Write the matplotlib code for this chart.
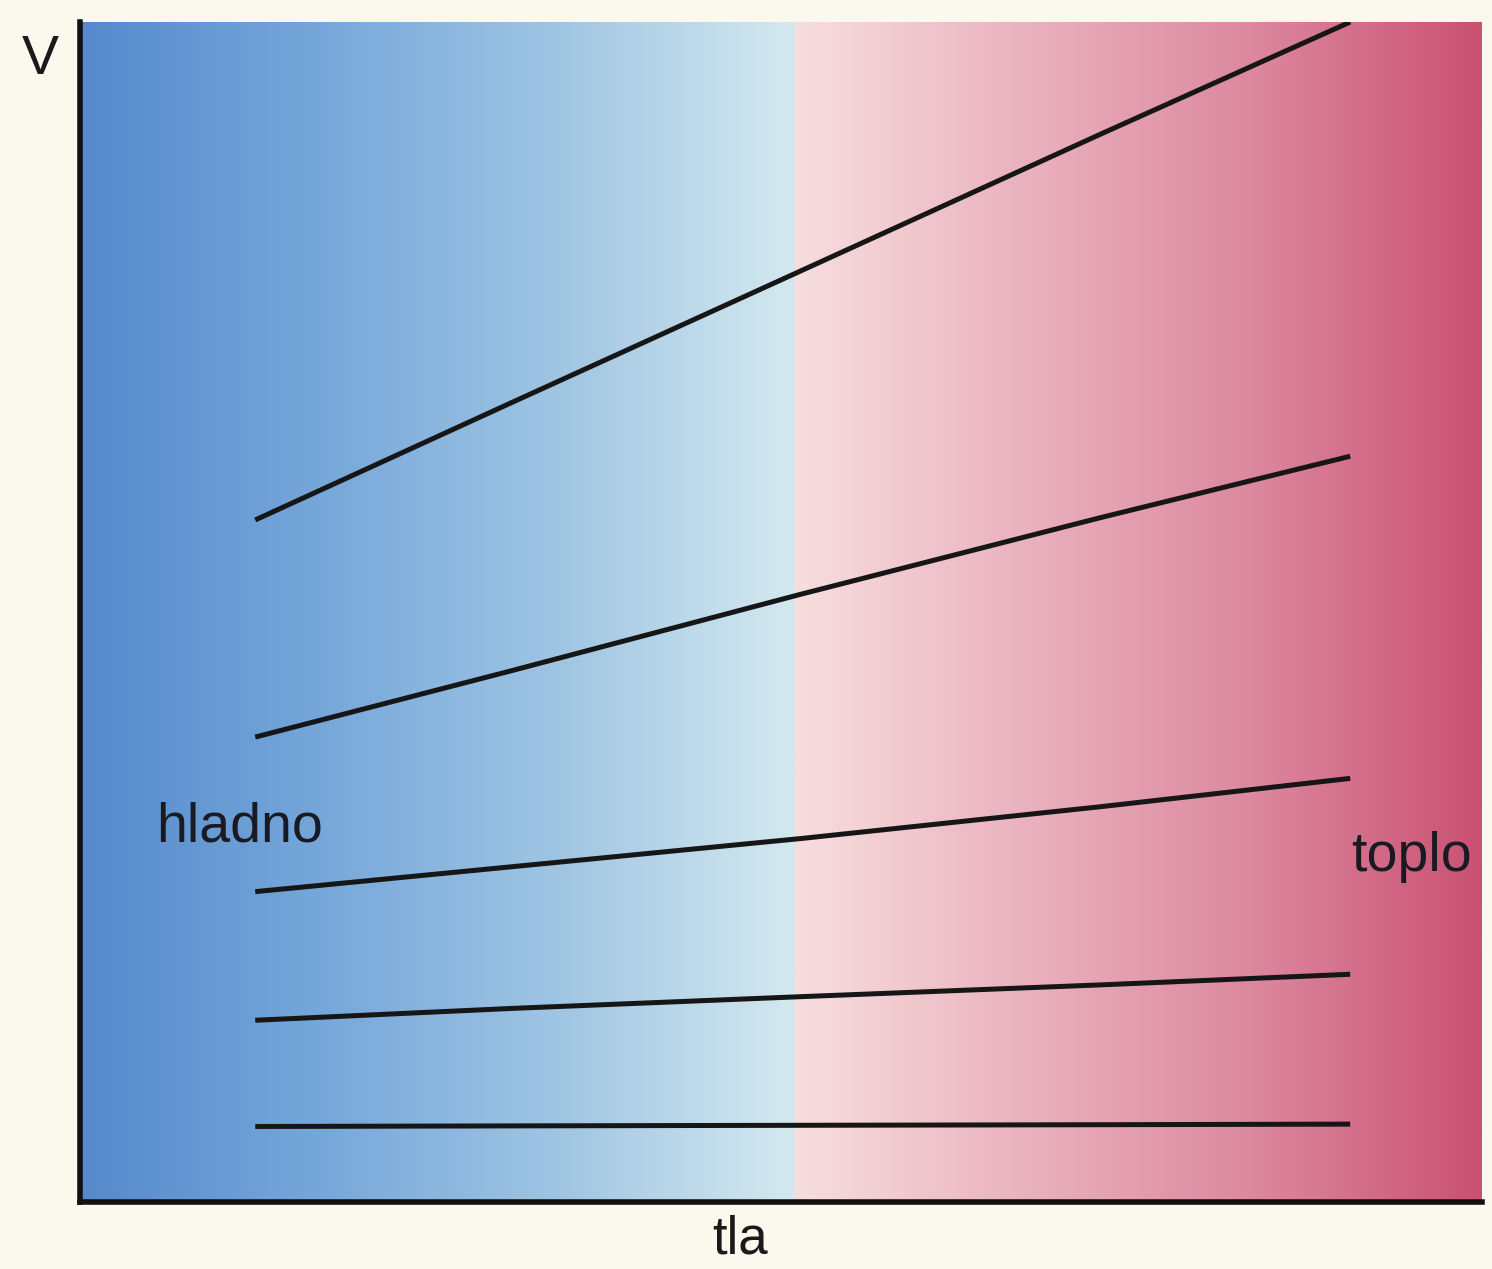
import numpy as np
import matplotlib
matplotlib.use("Agg")
import matplotlib.pyplot as plt
from matplotlib.colors import LinearSegmentedColormap

# temperature axis (tla) positions where each curve is read
tla = [12.5, 30.7, 51.4, 72.8, 90.6]

# volume curves, top to bottom
v_curves = [
    [57.8, 67.7, 78.9, 90.5, 100.0],
    [39.4, 45.0, 51.5, 58.0, 63.2],
    [26.3, 28.4, 30.8, 33.5, 35.9],
    [15.4, 16.4, 17.4, 18.4, 19.3],
    [6.4, 6.45, 6.5, 6.55, 6.6],
]

labels = {"hladno": (11.4, 31.7), "toplo": (95.0, 29.2)}

plt.rcParams['font.family'] = ['Liberation Sans', 'DejaVu Sans']

fig = plt.figure(figsize=(14.92, 12.69), dpi=100, facecolor='#fbf9ee')
ax = fig.add_axes([80 / 1492, 67 / 1269, 1402 / 1492, 1180 / 1269])
ax.set_xlim(0, 100)
ax.set_ylim(0, 100)

# cold half fades from blue to pale, warm half from pale pink to red
cold = LinearSegmentedColormap.from_list(
    'cold', ['#5689cc', '#76a7da', '#9fc5e3', '#d4e9ef'])
warm = LinearSegmentedColormap.from_list(
    'warm', ['#f7dede', '#eab2be', '#dc889e', '#ca5172'])
grad = np.linspace(0, 1, 256)[None, :]
split = 51.0
ax.imshow(grad, cmap=cold, aspect='auto', extent=(0, split, 0, 100), zorder=0)
ax.imshow(grad, cmap=warm, aspect='auto', extent=(split, 100, 0, 100), zorder=0)

for v in v_curves:
    ax.plot(tla, v, color='#161616', lw=3.6, solid_capstyle='butt', zorder=3)

for txt, (x, y) in labels.items():
    ax.text(x, y, txt, fontsize=40, ha='center', va='center', color='#1a1a22')

ax.text(-2.85, 96.8, 'V', fontsize=40, ha='center', va='center',
        color='#1a1a1a', clip_on=False)
ax.text(47.1, -3.2, 'tla', fontsize=38, ha='center', va='center',
        color='#1a1a1a', clip_on=False)

for side in ('top', 'right'):
    ax.spines[side].set_visible(False)
for side in ('left', 'bottom'):
    ax.spines[side].set_linewidth(4)
    ax.spines[side].set_color('#111111')
ax.set_xticks([])
ax.set_yticks([])

fig.savefig('out.png', dpi=100, facecolor=fig.get_facecolor())
